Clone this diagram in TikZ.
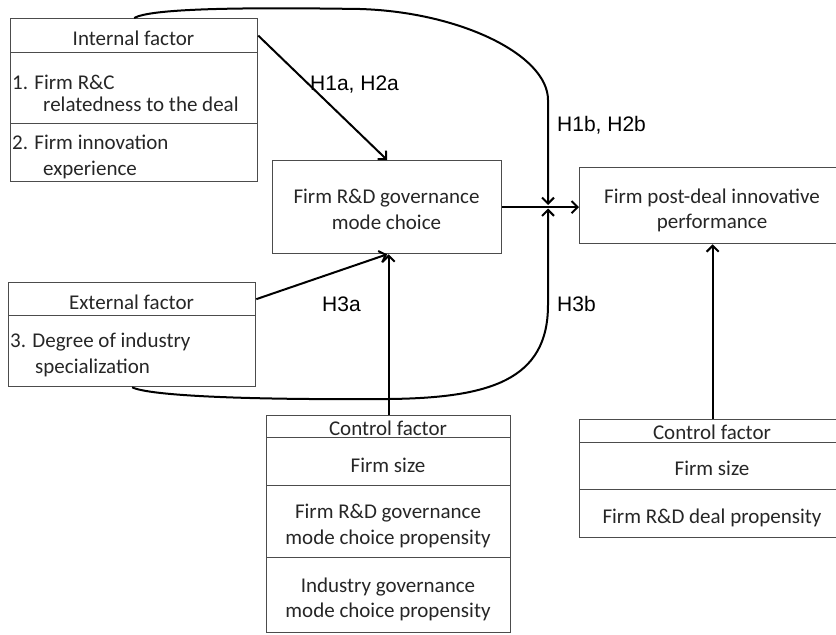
\documentclass[tikz,border=0pt]{standalone}
\usepackage{fontspec}
\setmainfont{Carlito}
\newfontfamily\labfont{Liberation Sans}
\usetikzlibrary{arrows.meta}
\begin{document}
\begin{tikzpicture}[x=1pt,y=-1pt,
  box/.style={draw=black!70, line width=1.3pt, inner sep=0pt, anchor=north west},
  ct/.style={font=\fontsize{21}{25}\selectfont, text=black!85, inner sep=0pt, anchor=base},
  lt/.style={font=\fontsize{21}{25}\selectfont, text=black!85, inner sep=0pt, anchor=base west},
  hyp/.style={font=\labfont\fontsize{21}{25}\selectfont, inner sep=0pt, anchor=base west},
  conn/.style={line width=2pt, -{Straight Barb[length=6pt,width=12pt]}},
  plain/.style={line width=2pt}]
\useasboundingbox (0,0) rectangle (836,635);
\clip (0,0) rectangle (836,635);

% Internal factor
\node[box, minimum width=247pt, minimum height=34pt] (ihead) at (10,18) {};
\node[box, minimum width=247pt, minimum height=71pt] (irow1) at (10,52) {};
\node[box, minimum width=247pt, minimum height=58pt] (irow2) at (10,123) {};
\node[ct] (iheadt) at (133.5,45) {Internal factor};
\node[lt] (i1a) at (12,89) {1. Firm R\&C};
\node[lt] (i1b) at (43,111) {relatedness to the deal};
\node[lt] (i2a) at (12,149) {2. Firm innovation};
\node[lt] (i2b) at (43,175) {experience};

% Mid box
\node[box, minimum width=229pt, minimum height=93pt] (mid) at (272,160) {};
\node[ct] (mid1) at (386.5,203) {Firm R\&D governance};
\node[ct] (mid2) at (386.5,229) {mode choice};

% Right box
\node[box, minimum width=266pt, minimum height=76pt] (perf) at (579,167) {};
\node[ct] (perf1) at (712,203) {Firm post-deal innovative};
\node[ct] (perf2) at (712,228) {performance};

% External factor
\node[box, minimum width=247pt, minimum height=33pt] (ehead) at (8,282) {};
\node[box, minimum width=247pt, minimum height=71pt] (ebody) at (8,315) {};
\node[ct] (eheadt) at (131.5,309) {External factor};
\node[lt] (e1a) at (10,347) {3. Degree of industry};
\node[lt] (e1b) at (35,373) {specialization};

% Control factor (left)
\node[box, minimum width=244pt, minimum height=22pt] (chead) at (266,415) {};
\node[box, minimum width=244pt, minimum height=48pt] (crow1) at (266,437) {};
\node[box, minimum width=244pt, minimum height=72pt] (crow2) at (266,485) {};
\node[box, minimum width=244pt, minimum height=75pt] (crow3) at (266,557) {};
\node[ct] (cheadt) at (388,435) {Control factor};
\node[ct] (c1) at (388,472) {Firm size};
\node[ct] (c2a) at (388,518) {Firm R\&D governance};
\node[ct] (c2b) at (388,544) {mode choice propensity};
\node[ct] (c3a) at (388,592) {Industry governance};
\node[ct] (c3b) at (388,617) {mode choice propensity};

% Control factor (right)
\node[box, minimum width=266pt, minimum height=23pt] (dhead) at (579,419) {};
\node[box, minimum width=266pt, minimum height=47pt] (drow1) at (579,442) {};
\node[box, minimum width=266pt, minimum height=48pt] (drow2) at (579,489) {};
\node[ct] (dheadt) at (712,439) {Control factor};
\node[ct] (d1) at (712,475) {Firm size};
\node[ct] (d2) at (712,523) {Firm R\&D deal propensity};

% Hypothesis labels
\node[hyp] (h1a) at (310,90) {H1a, H2a};
\node[hyp] (h1b) at (557,131) {H1b, H2b};
\node[hyp] (h3a) at (322,311) {H3a};
\node[hyp] (h3b) at (557,311) {H3b};

% Meeting points on the mid -> perf connector
\coordinate (xtop) at (548,205);
\coordinate (xbot) at (548,208.5);

% Connectors
\draw[conn] (ihead.east) -- (mid.north);
\draw[conn] (ehead.east) -- (mid.south);
\draw[conn] (chead.north) -- (chead.north |- mid.south);
\draw[conn] (mid.east) -- (mid.east -| perf.west);
\draw[conn] (dhead.north) -- (dhead.north |- perf.south);
\draw[conn] (ihead.north) .. controls (150,9) and (230,7) .. (360,9)
  .. controls (460,12) and (548,55) .. (548,100) -- (xtop);
\draw[conn] (ebody.south) .. controls (150,396) and (250,400) .. (388,399)
  .. controls (490,398) and (548,380) .. (548,305) -- (xbot);
\end{tikzpicture}
\end{document}
